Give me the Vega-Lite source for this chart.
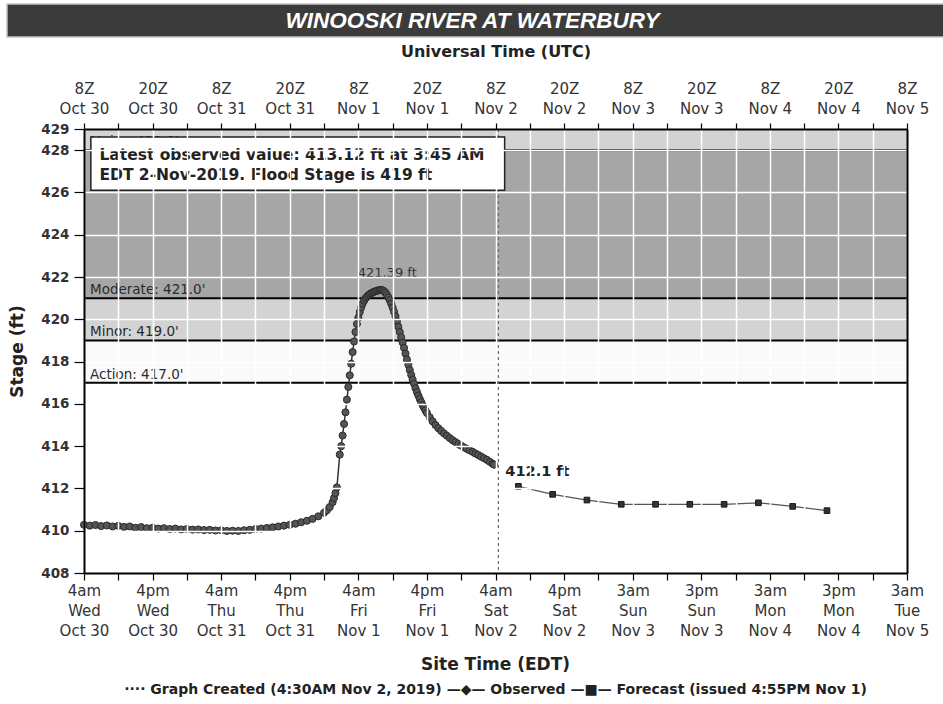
{
  "$schema": "https://vega.github.io/schema/vega-lite/v6.json",
  "padding": {"left": 6, "top": 3, "right": 4, "bottom": 0},
  "background": "white",
  "spacing": 92,
  "center": true,
  "bounds": "flush",
  "config": {"view": {"stroke": null}, "font": "DejaVu Sans"},
  "datasets": {
    "observed": [
      {"t": 0, "stage": 410.28}, {"t": 1, "stage": 410.24}, {"t": 2, "stage": 410.27}, {"t": 3, "stage": 410.22},
      {"t": 4, "stage": 410.25}, {"t": 5, "stage": 410.2}, {"t": 6, "stage": 410.23}, {"t": 7, "stage": 410.18},
      {"t": 8, "stage": 410.2}, {"t": 9, "stage": 410.14}, {"t": 10, "stage": 410.17}, {"t": 11, "stage": 410.12},
      {"t": 12, "stage": 410.14}, {"t": 13, "stage": 410.1}, {"t": 14, "stage": 410.12}, {"t": 15, "stage": 410.08},
      {"t": 16, "stage": 410.1}, {"t": 17, "stage": 410.06}, {"t": 18, "stage": 410.08}, {"t": 19, "stage": 410.05},
      {"t": 20, "stage": 410.06}, {"t": 21, "stage": 410.03}, {"t": 22, "stage": 410.04}, {"t": 23, "stage": 410.01},
      {"t": 24, "stage": 410.02}, {"t": 25, "stage": 409.99}, {"t": 26, "stage": 410.0}, {"t": 27, "stage": 409.99},
      {"t": 28, "stage": 410.02}, {"t": 29, "stage": 410.04}, {"t": 30, "stage": 410.08}, {"t": 31, "stage": 410.1},
      {"t": 32, "stage": 410.13}, {"t": 33, "stage": 410.16}, {"t": 34, "stage": 410.2}, {"t": 35, "stage": 410.24},
      {"t": 36, "stage": 410.28}, {"t": 37, "stage": 410.33}, {"t": 38, "stage": 410.4}, {"t": 39, "stage": 410.47},
      {"t": 40, "stage": 410.56}, {"t": 41, "stage": 410.68}, {"t": 42, "stage": 410.85}, {"t": 42.5, "stage": 410.97},
      {"t": 43, "stage": 411.12}, {"t": 43.5, "stage": 411.35}, {"t": 43.75, "stage": 411.55}, {"t": 44, "stage": 411.78},
      {"t": 44.25, "stage": 412.05}, {"t": 44.75, "stage": 413.6}, {"t": 45, "stage": 414.0}, {"t": 45.25, "stage": 414.5},
      {"t": 45.5, "stage": 415.05}, {"t": 45.75, "stage": 415.6}, {"t": 46, "stage": 416.2}, {"t": 46.25, "stage": 416.8},
      {"t": 46.5, "stage": 417.35}, {"t": 46.75, "stage": 417.9}, {"t": 47, "stage": 418.45}, {"t": 47.25, "stage": 418.95},
      {"t": 47.5, "stage": 419.4}, {"t": 47.75, "stage": 419.78}, {"t": 48, "stage": 420.08}, {"t": 48.25, "stage": 420.34},
      {"t": 48.5, "stage": 420.56}, {"t": 48.75, "stage": 420.74}, {"t": 49, "stage": 420.88}, {"t": 49.25, "stage": 420.99},
      {"t": 49.5, "stage": 421.07}, {"t": 49.75, "stage": 421.14}, {"t": 50, "stage": 421.19}, {"t": 50.25, "stage": 421.23},
      {"t": 50.5, "stage": 421.27}, {"t": 50.75, "stage": 421.3}, {"t": 51, "stage": 421.33}, {"t": 51.25, "stage": 421.35},
      {"t": 51.5, "stage": 421.37}, {"t": 51.75, "stage": 421.38}, {"t": 52, "stage": 421.39}, {"t": 52.25, "stage": 421.37},
      {"t": 52.5, "stage": 421.33}, {"t": 52.75, "stage": 421.26}, {"t": 53, "stage": 421.16}, {"t": 53.25, "stage": 421.04},
      {"t": 53.5, "stage": 420.9}, {"t": 53.75, "stage": 420.74}, {"t": 54, "stage": 420.56}, {"t": 54.25, "stage": 420.36},
      {"t": 54.5, "stage": 420.14}, {"t": 54.75, "stage": 419.9}, {"t": 55, "stage": 419.65}, {"t": 55.25, "stage": 419.4},
      {"t": 55.5, "stage": 419.15}, {"t": 55.75, "stage": 418.9}, {"t": 56, "stage": 418.65}, {"t": 56.25, "stage": 418.38},
      {"t": 56.5, "stage": 418.1}, {"t": 56.75, "stage": 417.85}, {"t": 57, "stage": 417.6}, {"t": 57.25, "stage": 417.37},
      {"t": 57.5, "stage": 417.15}, {"t": 57.75, "stage": 416.95}, {"t": 58, "stage": 416.74}, {"t": 58.25, "stage": 416.56},
      {"t": 58.5, "stage": 416.39}, {"t": 58.75, "stage": 416.23}, {"t": 59, "stage": 416.08}, {"t": 59.25, "stage": 415.94},
      {"t": 59.5, "stage": 415.81}, {"t": 59.75, "stage": 415.69}, {"t": 60, "stage": 415.57}, {"t": 60.5, "stage": 415.36},
      {"t": 61, "stage": 415.17}, {"t": 61.5, "stage": 415.0}, {"t": 62, "stage": 414.85}, {"t": 62.5, "stage": 414.72},
      {"t": 63, "stage": 414.6}, {"t": 63.5, "stage": 414.49}, {"t": 64, "stage": 414.38}, {"t": 64.5, "stage": 414.28},
      {"t": 65, "stage": 414.19}, {"t": 65.5, "stage": 414.1}, {"t": 66, "stage": 414.02}, {"t": 66.5, "stage": 413.94},
      {"t": 67, "stage": 413.87}, {"t": 67.5, "stage": 413.8}, {"t": 68, "stage": 413.73}, {"t": 68.5, "stage": 413.65},
      {"t": 69, "stage": 413.58}, {"t": 69.5, "stage": 413.5}, {"t": 70, "stage": 413.43}, {"t": 70.5, "stage": 413.35},
      {"t": 71, "stage": 413.26}, {"t": 71.5, "stage": 413.17}, {"t": 71.75, "stage": 413.12}
    ],
    "forecast": [
      {"t": 76, "stage": 412.1}, {"t": 82, "stage": 411.72}, {"t": 88, "stage": 411.45}, {"t": 94, "stage": 411.25},
      {"t": 100, "stage": 411.25}, {"t": 106, "stage": 411.25}, {"t": 112, "stage": 411.25}, {"t": 118, "stage": 411.32},
      {"t": 124, "stage": 411.15}, {"t": 130, "stage": 410.95}
    ],
    "thresholds": [
      {"level": 417, "label": "Action: 417.0'"},
      {"level": 419, "label": "Minor: 419.0'"},
      {"level": 421, "label": "Moderate: 421.0'"},
      {"level": 428, "label": "Major: 428.0'"}
    ],
    "zones": [
      {"zone": "Action", "lo": 417, "hi": 419},
      {"zone": "Minor", "lo": 419, "hi": 421},
      {"zone": "Moderate", "lo": 421, "hi": 428},
      {"zone": "Major", "lo": 428, "hi": 429}
    ]
  },
  "vconcat": [
    {
      "width": 977,
      "height": 33,
      "data": {"values": [{"name": "WINOOSKI RIVER AT WATERBURY"}]},
      "layer": [
        {"mark": {"type": "rect", "fill": "#3b3b3b", "stroke": "#c4c4c4", "strokeWidth": 1.5}, "encoding": {}},
        {"mark": {"type": "text", "color": "white", "font": "Liberation Sans", "fontSize": 22.5, "fontWeight": "bold", "fontStyle": "italic", "baseline": "middle", "align": "center", "dx": -23},
         "encoding": {"text": {"field": "name"}}}
      ]
    },
    {
      "width": 823,
      "height": 444,
      "title": {
        "text": "Site Time (EDT)",
        "orient": "bottom",
        "frame": "group",
        "anchor": "middle",
        "font": "DejaVu Sans",
        "fontSize": 17,
        "fontWeight": "bold",
        "color": "#222",
        "offset": 19,
        "subtitle": "···· Graph Created (4:30AM Nov 2, 2019) —◆— Observed —■— Forecast (issued 4:55PM Nov 1)",
        "subtitleFont": "DejaVu Sans",
        "subtitleFontSize": 14,
        "subtitleFontWeight": "bold",
        "subtitleColor": "#222",
        "subtitlePadding": 9
      },
      "resolve": {"axis": {"x": "independent", "y": "independent"}},
      "layer": [
        {
          "data": {"name": "zones"},
          "mark": {"type": "rect"},
          "encoding": {
            "x": {"datum": 0, "type": "quantitative", "scale": {"domain": [0, 144], "nice": false, "zero": false},
              "axis": {"orient": "bottom", "title": null,
                "values": [0, 6, 12, 18, 24, 30, 36, 42, 48, 54, 60, 66, 72, 78, 84, 90, 96, 102, 108, 114, 120, 126, 132, 138, 144],
                "grid": true, "gridColor": "white", "gridWidth": 1.5, "gridOpacity": 1, "zindex": 1,
                "domainColor": "black", "domainWidth": 2, "tickColor": "black", "tickSize": 7, "tickWidth": 1.2,
                "labelFont": "DejaVu Sans", "labelFontSize": 15, "labelColor": "#333", "labelLineHeight": 20,
                "labelPadding": 3, "labelBaseline": "top", "labelOverlap": false, "labelFlush": false, "labelBound": false,
                "labelExpr": "datum.value % 12 == 0 ? split(['4am|Wed|Oct 30','4pm|Wed|Oct 30','4am|Thu|Oct 31','4pm|Thu|Oct 31','4am|Fri|Nov 1','4pm|Fri|Nov 1','4am|Sat|Nov 2','4pm|Sat|Nov 2','3am|Sun|Nov 3','3pm|Sun|Nov 3','3am|Mon|Nov 4','3pm|Mon|Nov 4','3am|Tue|Nov 5'][datum.value / 12], '|') : ''"}},
            "x2": {"datum": 144},
            "y": {"field": "lo", "type": "quantitative", "scale": {"domain": [408, 429], "nice": false, "zero": false},
              "axis": {"orient": "left", "title": "Stage (ft)",
                "values": [408, 410, 412, 414, 416, 418, 420, 422, 424, 426, 428, 429],
                "titleFont": "DejaVu Sans", "titleFontSize": 17, "titleFontWeight": "bold", "titleColor": "#222", "titlePadding": 14,
                "grid": true, "gridColor": "white", "gridWidth": 1.5, "gridOpacity": 1, "zindex": 1,
                "domainColor": "black", "domainWidth": 2, "tickColor": "black", "tickSize": 10, "tickWidth": 1.2,
                "labelFont": "DejaVu Sans", "labelFontWeight": "bold", "labelFontSize": 13.5, "labelColor": "#333",
                "labelPadding": 5, "labelOverlap": false, "labelFlush": false}},
            "y2": {"field": "hi"},
            "color": {"field": "zone", "type": "nominal",
              "scale": {"domain": ["Action", "Minor", "Moderate", "Major"], "range": ["#fafafa", "#d3d3d3", "#a6a6a6", "#d3d3d3"]},
              "legend": null}
          }
        },
        {
          "data": {"name": "thresholds"},
          "mark": {"type": "rule", "color": "black", "strokeWidth": 2, "zindex": 2},
          "encoding": {
            "y": {"field": "level", "type": "quantitative", "scale": {"domain": [408, 429], "nice": false, "zero": false},
              "axis": {"orient": "right", "title": null, "labels": false, "ticks": false, "grid": false,
                "domainColor": "black", "domainWidth": 2, "zindex": 1}}
          }
        },
        {
          "data": {"name": "thresholds"},
          "mark": {"type": "text", "align": "left", "baseline": "alphabetic", "dy": -4, "font": "DejaVu Sans", "fontSize": 13.5, "color": "#2a2a2a", "zindex": 2},
          "encoding": {
            "x": {"datum": 1.05, "type": "quantitative", "scale": {"domain": [0, 144], "nice": false, "zero": false}, "axis": null},
            "y": {"field": "level", "type": "quantitative", "scale": {"domain": [408, 429], "nice": false, "zero": false}, "axis": null},
            "text": {"field": "label"}
          }
        },
        {
          "data": {"values": [{"t": 72.5, "what": "Graph Created (4:30AM Nov 2, 2019)"}]},
          "mark": {"type": "rule", "color": "#6a6a6a", "strokeWidth": 1.3, "strokeDash": [3, 3], "zindex": 2},
          "encoding": {
            "x": {"field": "t", "type": "quantitative", "scale": {"domain": [0, 144], "nice": false, "zero": false}, "axis": null}
          }
        },
        {
          "data": {"name": "observed"},
          "mark": {"type": "line", "color": "#333", "strokeWidth": 1.5, "zindex": 2},
          "encoding": {
            "x": {"field": "t", "type": "quantitative", "scale": {"domain": [0, 144], "nice": false, "zero": false}, "axis": null},
            "y": {"field": "stage", "type": "quantitative", "scale": {"domain": [408, 429], "nice": false, "zero": false}, "axis": null}
          }
        },
        {
          "data": {"name": "observed"},
          "mark": {"type": "point", "shape": "circle", "filled": true, "size": 50, "fill": "#555", "stroke": "#2a2a2a", "strokeWidth": 1, "opacity": 1, "zindex": 2},
          "encoding": {
            "x": {"field": "t", "type": "quantitative", "scale": {"domain": [0, 144], "nice": false, "zero": false}, "axis": null},
            "y": {"field": "stage", "type": "quantitative", "scale": {"domain": [408, 429], "nice": false, "zero": false}, "axis": null}
          }
        },
        {
          "data": {"name": "forecast"},
          "mark": {"type": "line", "color": "#555", "strokeWidth": 1.2, "zindex": 2},
          "encoding": {
            "x": {"field": "t", "type": "quantitative", "scale": {"domain": [0, 144], "nice": false, "zero": false}, "axis": null},
            "y": {"field": "stage", "type": "quantitative", "scale": {"domain": [408, 429], "nice": false, "zero": false}, "axis": null}
          }
        },
        {
          "data": {"name": "forecast"},
          "mark": {"type": "point", "shape": "square", "filled": true, "size": 32, "fill": "#333", "stroke": "#1a1a1a", "strokeWidth": 1, "opacity": 1, "zindex": 2},
          "encoding": {
            "x": {"field": "t", "type": "quantitative", "scale": {"domain": [0, 144], "nice": false, "zero": false},
              "axis": {"orient": "top", "title": "Universal Time (UTC)",
                "values": [0, 6, 12, 18, 24, 30, 36, 42, 48, 54, 60, 66, 72, 78, 84, 90, 96, 102, 108, 114, 120, 126, 132, 138, 144],
                "titleFont": "DejaVu Sans", "titleFontSize": 16, "titleFontWeight": "bold", "titleColor": "#222", "titlePadding": 22,
                "grid": false, "zindex": 1,
                "domainColor": "black", "domainWidth": 2, "tickColor": "black", "tickSize": 6, "tickWidth": 1.2,
                "labelFont": "DejaVu Sans", "labelFontSize": 15, "labelColor": "#333", "labelLineHeight": 20,
                "labelPadding": 27, "labelBaseline": "bottom", "labelOverlap": false, "labelFlush": false, "labelBound": false,
                "labelExpr": "datum.value % 12 == 0 ? split(['8Z|Oct 30','20Z|Oct 30','8Z|Oct 31','20Z|Oct 31','8Z|Nov 1','20Z|Nov 1','8Z|Nov 2','20Z|Nov 2','8Z|Nov 3','20Z|Nov 3','8Z|Nov 4','20Z|Nov 4','8Z|Nov 5'][datum.value / 12], '|') : ''"}},
            "y": {"field": "stage", "type": "quantitative", "scale": {"domain": [408, 429], "nice": false, "zero": false}, "axis": null}
          }
        },
        {
          "data": {"values": [{"t": 52.0, "stage": 421.39, "label": "421.39 ft"}]},
          "mark": {"type": "text", "align": "center", "baseline": "middle", "dx": 6, "dy": -17, "font": "DejaVu Sans", "fontSize": 13, "color": "#333", "zindex": 2},
          "encoding": {
            "x": {"field": "t", "type": "quantitative", "scale": {"domain": [0, 144], "nice": false, "zero": false}, "axis": null},
            "y": {"field": "stage", "type": "quantitative", "scale": {"domain": [408, 429], "nice": false, "zero": false}, "axis": null},
            "text": {"field": "label"}
          }
        },
        {
          "data": {"values": [{"t": 76, "stage": 412.1, "label": "412.1 ft"}]},
          "mark": {"type": "text", "align": "left", "baseline": "middle", "dx": -13, "dy": -14, "font": "DejaVu Sans", "fontSize": 14.5, "fontWeight": "bold", "color": "#222", "zindex": 2},
          "encoding": {
            "x": {"field": "t", "type": "quantitative", "scale": {"domain": [0, 144], "nice": false, "zero": false}, "axis": null},
            "y": {"field": "stage", "type": "quantitative", "scale": {"domain": [408, 429], "nice": false, "zero": false}, "axis": null},
            "text": {"field": "label"}
          }
        },
        {
          "data": {"values": [{"note": "Latest observed value: 413.12 ft at 3:45 AM|EDT 2-Nov-2019.  Flood Stage is 419 ft"}]},
          "mark": {"type": "rect", "fill": "white", "stroke": "#222", "strokeWidth": 1.5, "zindex": 3},
          "encoding": {
            "x": {"datum": 1.2, "type": "quantitative", "scale": {"domain": [0, 144], "nice": false, "zero": false}, "axis": null},
            "x2": {"datum": 73.6},
            "y": {"datum": 426.1, "type": "quantitative", "scale": {"domain": [408, 429], "nice": false, "zero": false}, "axis": null},
            "y2": {"datum": 428.62}
          }
        },
        {
          "data": {"values": [{"note": "Latest observed value: 413.12 ft at 3:45 AM|EDT 2-Nov-2019.  Flood Stage is 419 ft"}]},
          "mark": {"type": "text", "align": "left", "baseline": "middle", "lineBreak": "|", "lineHeight": 20, "font": "DejaVu Sans", "fontSize": 15.5, "fontWeight": "bold", "color": "#222", "zindex": 3},
          "encoding": {
            "x": {"datum": 2.7, "type": "quantitative", "scale": {"domain": [0, 144], "nice": false, "zero": false}, "axis": null},
            "y": {"datum": 427.77, "type": "quantitative", "scale": {"domain": [408, 429], "nice": false, "zero": false}, "axis": null},
            "text": {"field": "note"}
          }
        }
      ]
    }
  ]
}
